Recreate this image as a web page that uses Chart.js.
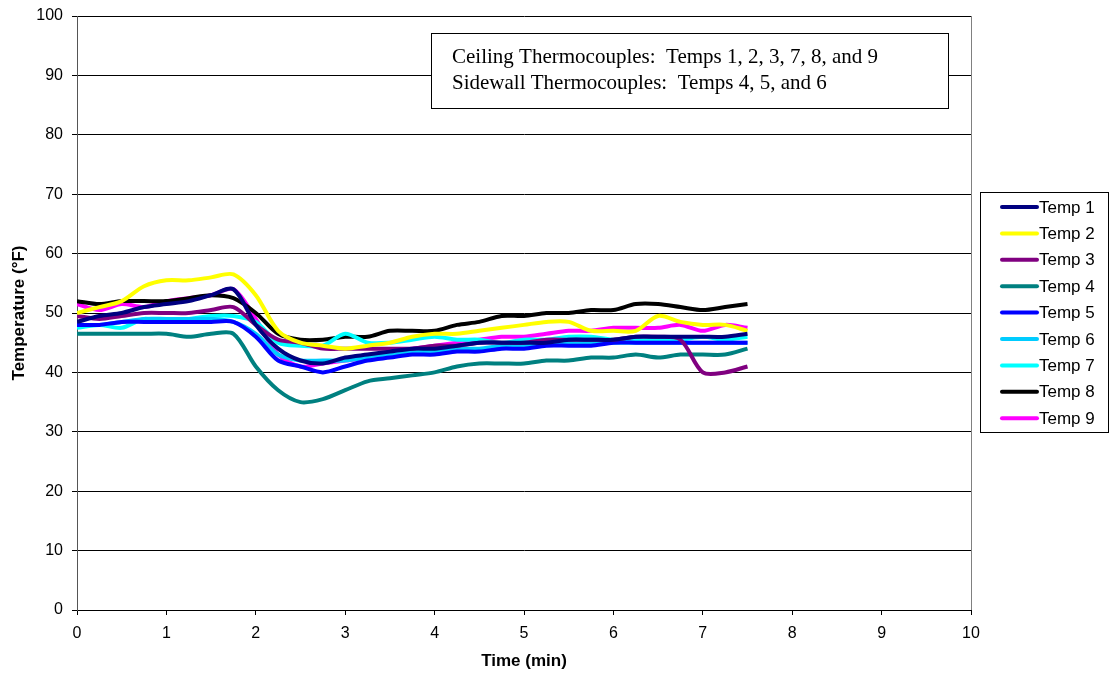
<!DOCTYPE html>
<html>
<head>
<meta charset="utf-8">
<script src="https://cdn.jsdelivr.net/npm/chart.js@4/dist/chart.umd.min.js"></script>
<style>
  html, body { margin: 0; padding: 0; background: #fff; }
  #wrap { width: 1119px; height: 676px; position: relative; }
</style>
</head>
<body>
<div id="wrap"><canvas id="chart1"></canvas></div>
<script>
// time in minutes
var times = [0, 0.25, 0.5, 0.75, 1, 1.25, 1.5, 1.75, 2, 2.25, 2.5, 2.75, 3, 3.25, 3.5, 3.75,
  4, 4.25, 4.5, 4.75, 5, 5.25, 5.5, 5.75, 6, 6.25, 6.5, 6.75, 7, 7.25, 7.5];

var temp1 = [48.5, 49.5, 50, 51, 51.5, 52, 53, 54, 48, 44, 42, 41.5, 42.5, 43, 43.5, 44,
  44, 44.5, 45, 45, 45, 45, 45.5, 45.5, 45.5, 46, 46, 46, 46, 46, 46.5];
var temp2 = [50, 51, 52, 54.5, 55.5, 55.5, 56, 56.5, 53, 47, 45, 44.5, 44, 44.5, 45, 46,
  46.5, 46.5, 47, 47.5, 48, 48.5, 48.5, 47, 47, 47, 49.5, 48.5, 48, 48, 47];
var temp3 = [49.5, 49, 49.5, 50, 50, 50, 50.5, 51, 48, 45.5, 45, 44, 44, 44, 44, 44,
  44.5, 44.5, 45, 45, 45, 45.5, 45.5, 45.5, 45.5, 46, 46, 45.5, 40, 40, 41];
var temp4 = [46.5, 46.5, 46.5, 46.5, 46.5, 46, 46.5, 46.5, 41, 37, 35, 35.5, 37, 38.5, 39, 39.5,
  40, 41, 41.5, 41.5, 41.5, 42, 42, 42.5, 42.5, 43, 42.5, 43, 43, 43, 44];
var temp5 = [48, 48, 48.5, 48.5, 48.5, 48.5, 48.5, 48.5, 46, 42, 41, 40, 41, 42, 42.5, 43,
  43, 43.5, 43.5, 44, 44, 44.5, 44.5, 44.5, 45, 45, 45, 45, 45, 45, 45];
var temp6 = [48, 48, 48.5, 49, 49, 49, 49, 48.5, 46.5, 43, 42, 42, 42, 42.5, 43, 43.5,
  43.5, 44, 44, 44.5, 44.5, 45, 45, 45, 45, 45, 45, 45, 45, 45, 45];
var temp7 = [47.5, 48, 47.5, 49, 48.5, 49, 49.5, 49.5, 48.5, 45, 44.5, 44.5, 46.5, 45, 45, 45.5,
  46, 45.5, 45.5, 45, 45.5, 45.5, 46, 46, 45.5, 45.5, 45.5, 45.5, 46, 45.5, 46];
var temp8 = [52, 51.5, 52, 52, 52, 52.5, 53, 52.5, 50, 46.5, 45.5, 45.5, 46, 46, 47, 47,
  47, 48, 48.5, 49.5, 49.5, 50, 50, 50.5, 50.5, 51.5, 51.5, 51, 50.5, 51, 51.5];
var temp9 = [51.5, 50.5, 51.5, 51, 52, 52.5, 53, 54, 49, 43, 41, 41.5, 42, 42.5, 43.5, 44,
  44.5, 45, 45.5, 46, 46, 46.5, 47, 47, 47.5, 47.5, 47.5, 48, 47, 48, 47.5];

var seriesNames = ['Temp 1', 'Temp 2', 'Temp 3', 'Temp 4', 'Temp 5', 'Temp 6', 'Temp 7', 'Temp 8', 'Temp 9'];
var seriesColors = ['#000080', '#ffff00', '#800080', '#008080', '#0000ff', '#00ccff', '#00ffff', '#000000', '#ff00ff'];
var allSeries = [temp1, temp2, temp3, temp4, temp5, temp6, temp7, temp8, temp9];

var yTicks = [0, 10, 20, 30, 40, 50, 60, 70, 80, 90, 100];
var xTicks = [0, 1, 2, 3, 4, 5, 6, 7, 8, 9, 10];

var noteLines = ['Ceiling Thermocouples:  Temps 1, 2, 3, 7, 8, and 9',
  'Sidewall Thermocouples:  Temps 4, 5, and 6'];

var sans = '"Liberation Sans", Arial, sans-serif';

var datasets = [];
for (var i = 0; i < allSeries.length; i++) {
  var pts = [];
  for (var j = 0; j < times.length; j++) {
    pts.push({x: times[j], y: allSeries[i][j]});
  }
  datasets.push({
    label: seriesNames[i],
    data: pts,
    borderColor: seriesColors[i],
    backgroundColor: seriesColors[i],
    borderWidth: 4,
    pointRadius: 0,
    tension: 0.3,
    fill: false
  });
}

// frame, text box and legend
var extras = {
  id: 'extras',
  afterDraw: function(chart) {
    var ctx = chart.ctx;
    var a = chart.chartArea;
    ctx.save();
    ctx.strokeStyle = '#808080';
    ctx.lineWidth = 1;
    ctx.beginPath();
    ctx.moveTo(a.right + 0.5, a.top);
    ctx.lineTo(a.right + 0.5, a.bottom);
    ctx.stroke();

    // note box
    ctx.fillStyle = '#fff';
    ctx.fillRect(431, 33, 517, 75);
    ctx.strokeStyle = '#000';
    ctx.lineWidth = 1;
    ctx.strokeRect(431.5, 33.5, 517, 75);
    ctx.fillStyle = '#000';
    ctx.font = '21px "Liberation Serif", "Times New Roman", serif';
    ctx.textBaseline = 'alphabetic';
    ctx.textAlign = 'left';
    ctx.fillText(noteLines[0], 452, 63);
    ctx.fillText(noteLines[1], 452, 89);

    // legend
    ctx.fillStyle = '#fff';
    ctx.fillRect(980, 192, 128, 240);
    ctx.strokeStyle = '#000';
    ctx.strokeRect(980.5, 192.5, 128, 240);
    ctx.font = '17px ' + sans;
    ctx.textBaseline = 'middle';
    chart.data.datasets.forEach(function(ds, k) {
      var yy = 207 + k * 26.4;
      ctx.strokeStyle = ds.borderColor;
      ctx.lineWidth = 4;
      ctx.lineCap = 'round';
      ctx.beginPath();
      ctx.moveTo(1002, yy);
      ctx.lineTo(1037, yy);
      ctx.stroke();
      ctx.fillStyle = '#000';
      ctx.fillText(ds.label, 1039, yy + 1);
    });
    ctx.restore();
  }
};

var config = {
  type: 'line',
  data: {datasets: datasets},
  options: {
    responsive: true,
    maintainAspectRatio: false,
    animation: false,
    layout: {padding: {top: 16, right: 148, left: 0, bottom: 0}},
    plugins: {
      legend: {display: false},
      tooltip: {enabled: false}
    },
    scales: {
      x: {
        type: 'linear',
        min: 0,
        max: 10,
        afterBuildTicks: function(s) { s.ticks = xTicks.map(function(v) { return {value: v}; }); },
        afterFit: function(s) { s.height = 66; s.paddingLeft = 0; s.paddingRight = 0; },
        grid: {drawOnChartArea: false, drawTicks: true, tickLength: 5, tickColor: '#000'},
        border: {display: true, color: '#000'},
        ticks: {color: '#000', font: {size: 16, family: sans}, padding: 9, maxRotation: 0},
        title: {display: true, text: 'Time (min)', color: '#000', font: {size: 17, weight: 'bold', family: sans}, padding: {top: 4}}
      },
      y: {
        min: 0,
        max: 100,
        afterBuildTicks: function(s) { s.ticks = yTicks.map(function(v) { return {value: v}; }); },
        afterFit: function(s) { s.width = 77; s.paddingTop = 0; s.paddingBottom = 0; },
        grid: {color: '#000', lineWidth: 1, drawTicks: true, tickLength: 5, tickColor: '#000'},
        border: {display: true, color: '#555'},
        ticks: {color: '#000', font: {size: 16, family: sans}, padding: 9},
        title: {display: true, text: 'Temperature (°F)', color: '#000', font: {size: 17, weight: 'bold', family: sans}, padding: {top: 9, bottom: 4}}
      }
    }
  },
  plugins: [extras]
};

const myChart = new Chart(document.getElementById('chart1'), config);
</script>
</body>
</html>
